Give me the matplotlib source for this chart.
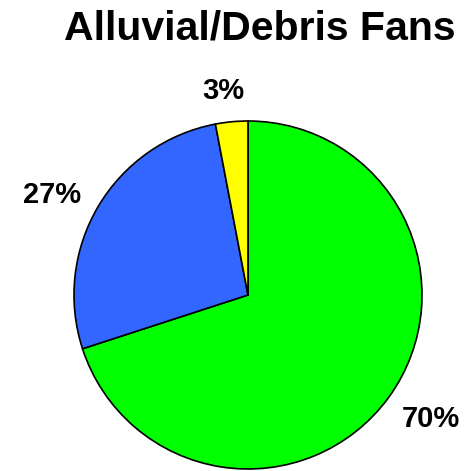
import matplotlib
matplotlib.use("Agg")
import matplotlib.pyplot as plt
import numpy as np

plt.rcParams['font.family'] = ['Liberation Sans', 'DejaVu Sans']

title = "Alluvial/Debris Fans"
categories = ["Green", "Blue", "Yellow"]
values = [70, 27, 3]
colors = ["#00FF00", "#3366FF", "#FFFF00"]
# label placement (style): radial distance and angular offset in degrees
label_dist = [1.27, 1.265, 1.18]
label_off = [2.0, 3.5, 1.6]

W, H = 469, 471
fig = plt.figure(figsize=(W / 100, H / 100), dpi=100)
cx, cy, r = 248, 295, 174
ax = fig.add_axes([(cx - r) / W, (H - cy - r) / H, 2 * r / W, 2 * r / H])

wedges, texts, autotexts = ax.pie(
    values, colors=colors, startangle=90, counterclock=False,
    autopct='%.0f%%', pctdistance=1.24,
    wedgeprops=dict(edgecolor='black', linewidth=1.2),
    textprops=dict(fontsize=21, fontweight='bold', color='black'),
)
for w, t, d, o in zip(wedges, autotexts, label_dist, label_off):
    ang = np.deg2rad((w.theta1 + w.theta2) / 2 + o)
    t.set_position((d * np.cos(ang), d * np.sin(ang)))
    t.set_va('center')
    t.set_ha('center')

ax.set_xlim(-1, 1)
ax.set_ylim(-1, 1)
ax.set_aspect('equal')
ax.axis('off')

fig.text(260 / W, 1 - 40 / H, title, ha='center', va='baseline',
         fontsize=29.5, fontweight='bold')

fig.savefig("out.png", dpi=100, facecolor='white')
